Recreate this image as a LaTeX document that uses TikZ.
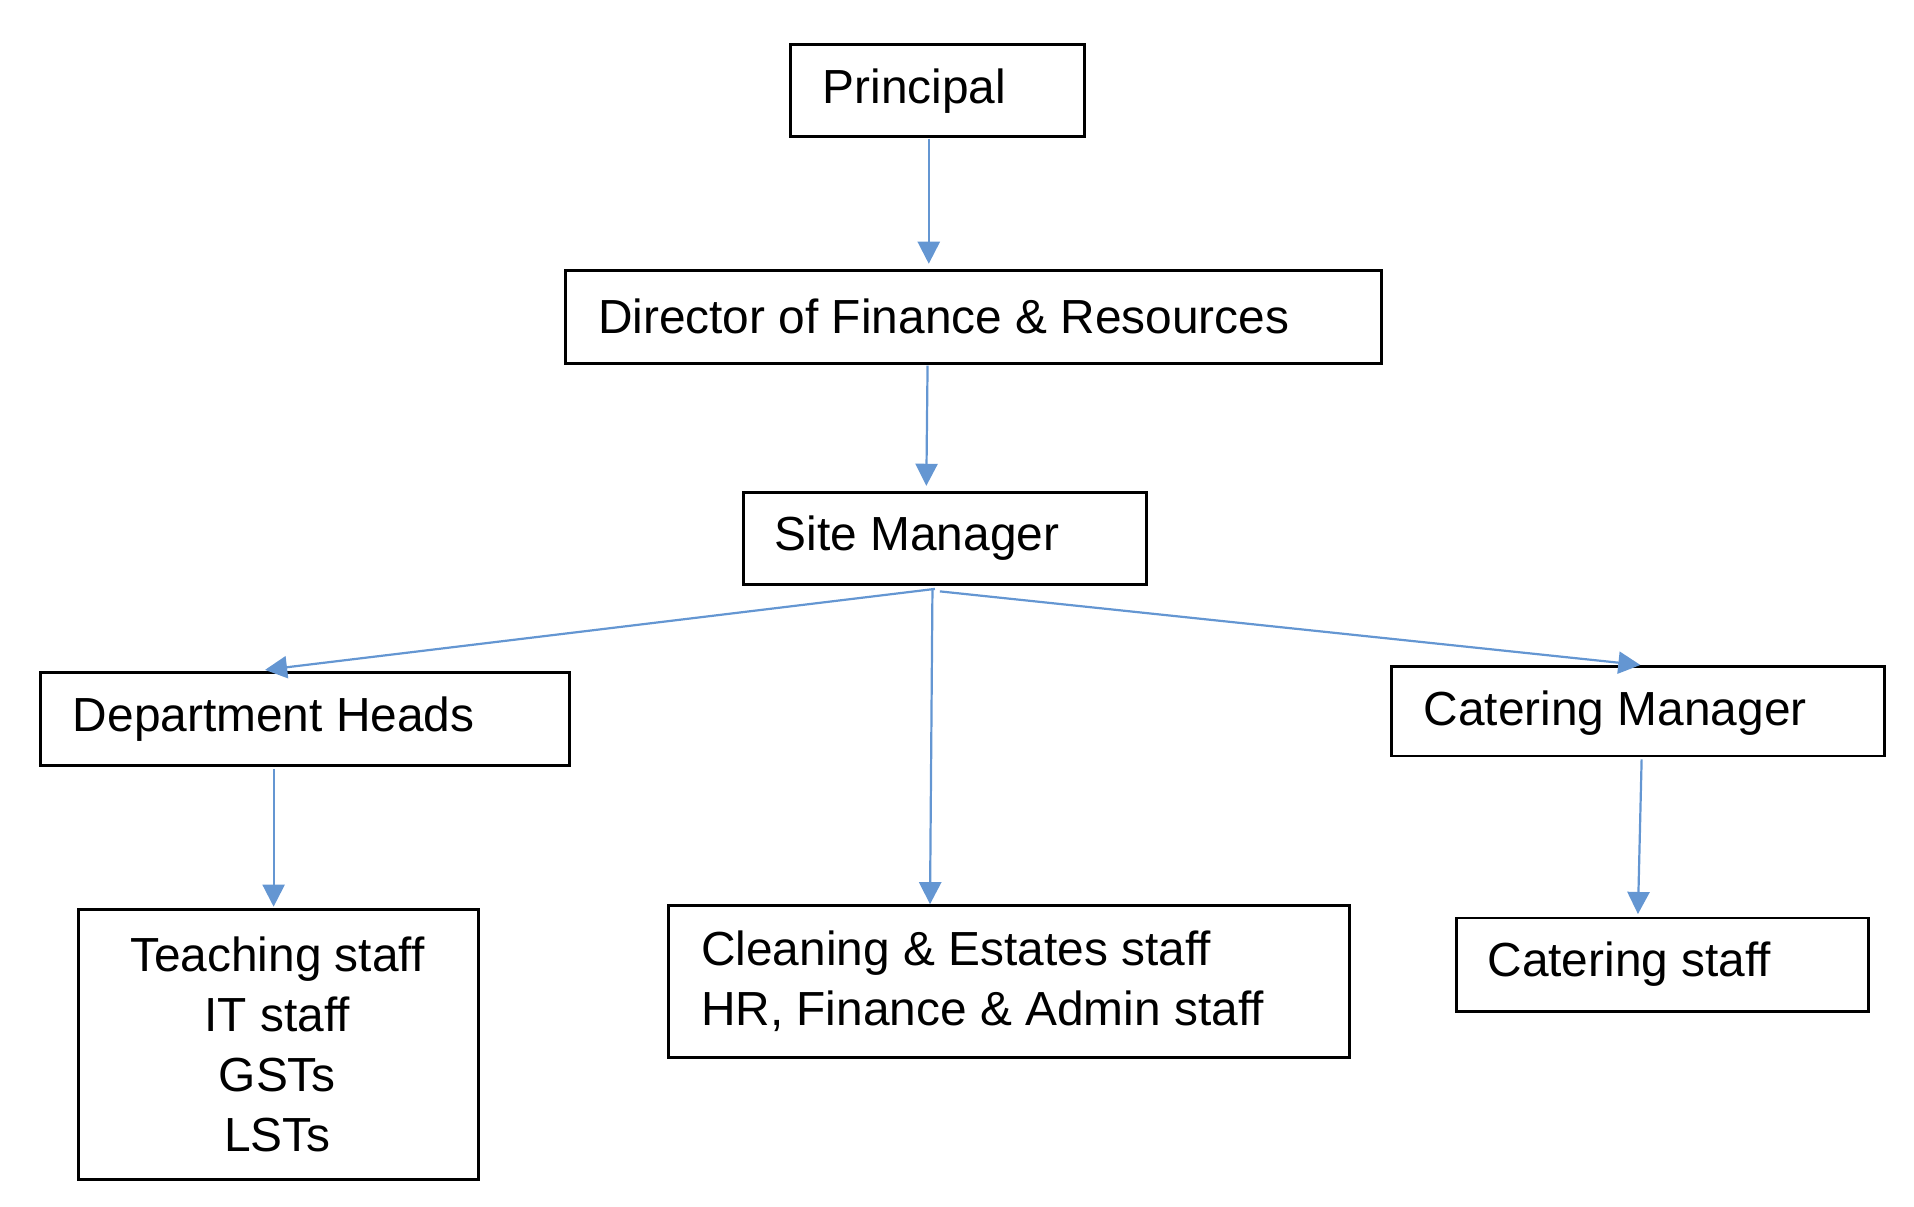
\documentclass[tikz,border=0pt]{standalone}
\usepackage{fontspec}
\setmainfont{Liberation Sans}
\usetikzlibrary{arrows.meta}
\definecolor{arr}{RGB}{100,150,210}
\begin{document}
\begin{tikzpicture}[x=0.5pt,y=-0.5pt,
  box/.style={draw,line width=1.2pt,anchor=north west,inner sep=0pt},
  lbl/.style={font=\fontsize{19.5}{24.5}\selectfont,inner sep=0pt,anchor=west},
  con/.style={draw=arr,line width=0.9pt,-{Triangle[length=9pt,width=9pt]}}]
\useasboundingbox (0,0) rectangle (1560,983);
\node[box,minimum width=240pt/2,minimum height=75pt/2] (p) at (643,35) {};
\node[lbl] (pt) at (670,74) {Principal};
\node[box,minimum width=665pt/2,minimum height=76pt/2] (d) at (460,219) {};
\node[lbl] (dt) at (487,258) {Director of Finance \& Resources};
\node[box,minimum width=328pt/2,minimum height=75pt/2] (s) at (605,400) {};
\node[lbl] (st) at (631,439) {Site Manager};
\node[box,minimum width=431pt/2,minimum height=76pt/2] (h) at (32,547) {};
\node[lbl] (ht) at (59,586) {Department Heads};
\node[box,minimum width=402pt/2,minimum height=73pt/2] (c) at (1133,542) {};
\node[lbl] (ct) at (1160,581) {Catering Manager};
\node[box,minimum width=326pt/2,minimum height=220pt/2] (t) at (63,740) {};
\node[font=\fontsize{19.5}{24.5}\selectfont,align=center,inner sep=0pt] (tt) at (226,851) {Teaching staff\\IT staff\\GSTs\\LSTs};
\node[box,minimum width=555pt/2,minimum height=124pt/2] (e) at (544,737) {};
\node[font=\fontsize{19.5}{24.5}\selectfont,align=left,inner sep=0pt,anchor=west] (et) at (571,800) {Cleaning \& Estates staff\\HR, Finance \& Admin staff};
\node[box,minimum width=336pt/2,minimum height=76pt/2] (cs) at (1186,747) {};
\node[lbl] (cst) at (1212,786) {Catering staff};
\coordinate (a1) at (757,113); \coordinate (b1) at (757,215);
\coordinate (a2) at (756,298); \coordinate (b2) at (755,396);
\coordinate (a3) at (762,480); \coordinate (b3) at (216,546);
\coordinate (a4) at (760,480); \coordinate (b4) at (758,737);
\coordinate (a5) at (766,482); \coordinate (b5) at (1337,542);
\coordinate (a6) at (223,627); \coordinate (b6) at (223,739);
\coordinate (a7) at (1338,619); \coordinate (b7) at (1335,745);
\foreach \i in {1,...,7} \draw[con] (a\i) -- (b\i);
\end{tikzpicture}
\end{document}
